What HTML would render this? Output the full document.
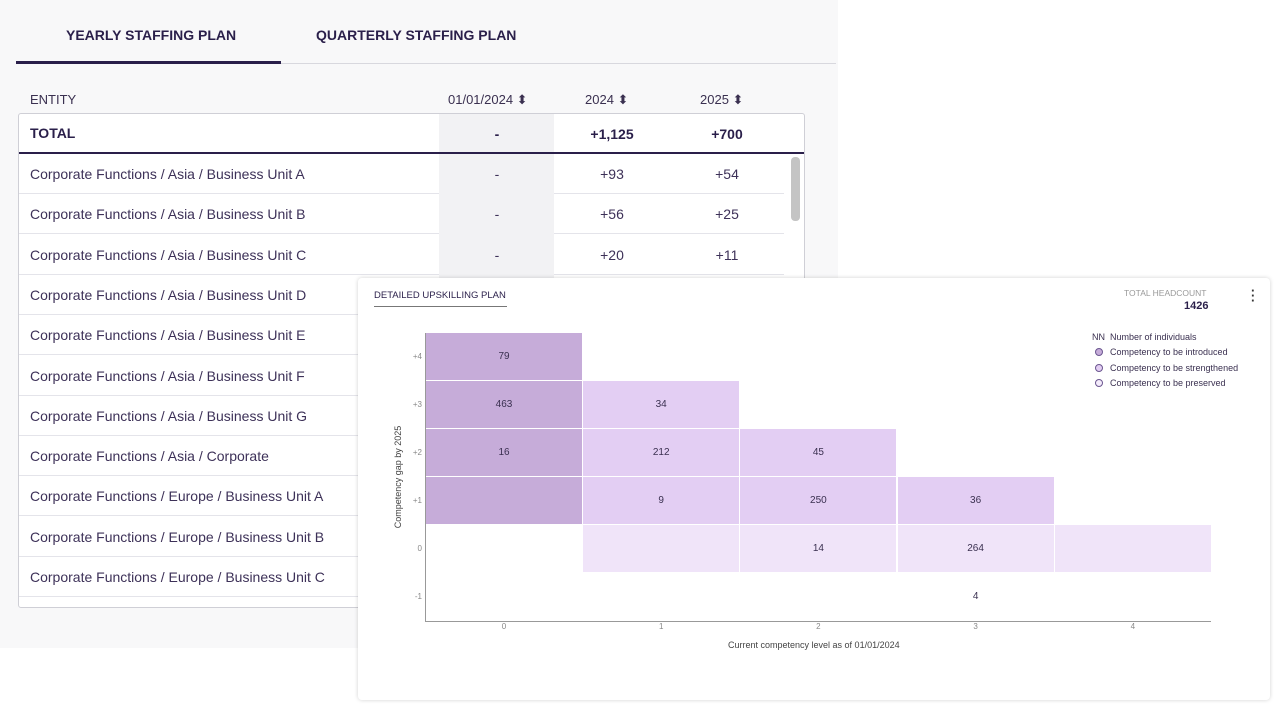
<!DOCTYPE html>
<html><head><style>
*{box-sizing:border-box;margin:0;padding:0}
body{width:1280px;height:710px;background:#fff;font-family:"Liberation Sans",sans-serif;position:relative;overflow:hidden;color:#2d2350}
.a{position:absolute}
#left{left:0;top:0;width:838px;height:648px;background:#f8f8f9}
.tab{font-size:14px;font-weight:bold;color:#2a1f4a;top:27px}
.hd{font-size:13px;color:#3a3050;top:92px}
.row{position:absolute;left:19px;width:765px;height:40px;border-bottom:1px solid #e4e4ea;background:#fff;font-size:14px;color:#3d3158}
.row span{position:absolute;top:12px}
.c1{left:0;width:115px}
.ct{text-align:center;width:80px}
#chart{left:358px;top:278px;width:912px;height:422px;background:#fff;border-radius:4px;box-shadow:0 0 4px rgba(0,0,0,.18)}
.cell{position:absolute;width:156px;height:47px;font-size:10px;color:#3a3050;text-align:center;line-height:47px}
.d{background:#c6acd9}.m{background:#e3cef3}.l{background:#f0e4f9}
.yl{position:absolute;font-size:8px;color:#888;width:20px;text-align:right;left:402px}
.xl{position:absolute;font-size:8px;color:#888;top:622px;width:20px;text-align:center}
.lg{position:absolute;font-size:9px;color:#3a3050;left:1110px}
.dot{position:absolute;left:1095px;width:8px;height:8px;border-radius:50%;border:1px solid #6b5690}
</style></head><body>
<div id="left" class="a">
<div class="a tab" style="left:66px">YEARLY STAFFING PLAN</div>
<div class="a tab" style="left:316px">QUARTERLY STAFFING PLAN</div>
<div class="a" style="left:16px;top:63px;width:820px;height:1px;background:#d8d8de"></div>
<div class="a" style="left:16px;top:61px;width:265px;height:3px;background:#2a1f4a"></div>
<div class="a hd" style="left:30px">ENTITY</div>
<div class="a hd" style="left:448px">01/01/2024 ⬍</div>
<div class="a hd" style="left:585px">2024 ⬍</div>
<div class="a hd" style="left:700px">2025 ⬍</div>
<div class="a" style="left:18px;top:113px;width:787px;height:495px;background:#fff;border:1px solid #cfcfd6;border-radius:3px;overflow:hidden">
<div class="a" style="left:420px;top:0;width:115px;height:495px;background:#f2f2f4"></div>
<div class="a" style="left:0;top:0;width:787px;height:39px;font-size:14px;font-weight:bold;color:#2a1f4a">
<span class="a" style="left:11px;top:11px">TOTAL</span>
<span class="a ct" style="left:438px;top:12px">-</span>
<span class="a ct" style="left:553px;top:12px">+1,125</span>
<span class="a ct" style="left:668px;top:12px">+700</span></div>
<div class="a" style="left:0;top:38px;width:787px;height:2px;background:#2a1f4a"></div>
<div class="a" style="left:772px;top:43px;width:9px;height:64px;background:#c4c4c4;border-radius:4px"></div>
</div>
<div id="rows"></div>
</div>
<script>
var names=["Asia / Business Unit A","Asia / Business Unit B","Asia / Business Unit C","Asia / Business Unit D","Asia / Business Unit E","Asia / Business Unit F","Asia / Business Unit G","Asia / Corporate","Europe / Business Unit A","Europe / Business Unit B","Europe / Business Unit C"];
var v=[["+93","+54"],["+56","+25"],["+20","+11"]];
var h="";
names.forEach(function(n,i){var t=154+i*40.3;
h+='<div class="row" style="top:'+t+'px"><span style="left:11px">Corporate Functions / '+n+'</span>'+
'<span style="left:420px;top:0;width:115px;height:40px;background:#f2f2f4"></span>'+
'<span class="ct" style="left:438px">-</span>'+(v[i]?'<span class="ct" style="left:553px">'+v[i][0]+'</span><span class="ct" style="left:668px">'+v[i][1]+'</span>':'')+'</div>';});
document.getElementById("rows").innerHTML=h;
</script>
<div id="chart" class="a">
<div class="a" style="left:16px;top:12px;font-size:9.5px;color:#2a1f4a">DETAILED UPSKILLING PLAN</div>
<div class="a" style="left:16px;top:28px;width:133px;height:1px;background:#777"></div>
<div class="a" style="left:766px;top:10px;font-size:8.5px;color:#999">TOTAL HEADCOUNT</div>
<div class="a" style="left:826px;top:22px;font-size:11px;font-weight:bold;color:#2a1f4a">1426</div>
<div class="a" style="left:893px;top:10px;font-size:13px;font-weight:bold;line-height:5px;color:#333">·<br>·<br>·</div>
</div>
<div class="lg" style="left:1092px;top:332px">NN&nbsp; Number of individuals</div>
<div class="dot" style="top:348px;background:#c6acd9"></div><div class="lg" style="top:347px">Competency to be introduced</div>
<div class="dot" style="top:364px;background:#e3cef3"></div><div class="lg" style="top:363px">Competency to be strengthened</div>
<div class="dot" style="top:379px;background:#f4ecfb"></div><div class="lg" style="top:378px">Competency to be preserved</div>
<div id="cells"></div>
<div class="a" style="left:425px;top:333px;width:1px;height:289px;background:#999"></div>
<div class="a" style="left:425px;top:621px;width:786px;height:1px;background:#999"></div>
<div class="a" style="left:383px;top:472px;transform:rotate(-90deg);transform-origin:center;font-size:9px;color:#444;width:130px;margin-left:-50px;text-align:center">Competency gap by 2025</div>
<div class="a" style="left:728px;top:640px;font-size:9px;color:#444">Current competency level as of 01/01/2024</div>
<script>
var c=[[0,0,"d","79"],[0,1,"d","463"],[0,2,"d","16"],[0,3,"d",""],[1,1,"m","34"],[1,2,"m","212"],[1,3,"m","9"],[1,4,"l",""],[2,2,"m","45"],[2,3,"m","250"],[2,4,"l","14"],[3,3,"m","36"],[3,4,"l","264"],[3,5,"","4"],[4,4,"l",""]];
var h="";c.forEach(function(x){h+='<div class="cell '+x[2]+'" style="left:'+(426+x[0]*157.2)+'px;top:'+(333+x[1]*48)+'px">'+x[3]+'</div>';});
["+4","+3","+2","+1","0","-1"].forEach(function(l,i){h+='<div class="yl" style="top:'+(352+i*48)+'px">'+l+'</div>';});
for(var i=0;i<5;i++)h+='<div class="xl" style="left:'+(494+i*157.2)+'px">'+i+'</div>';
document.getElementById("cells").innerHTML=h;
</script>
</body></html>
